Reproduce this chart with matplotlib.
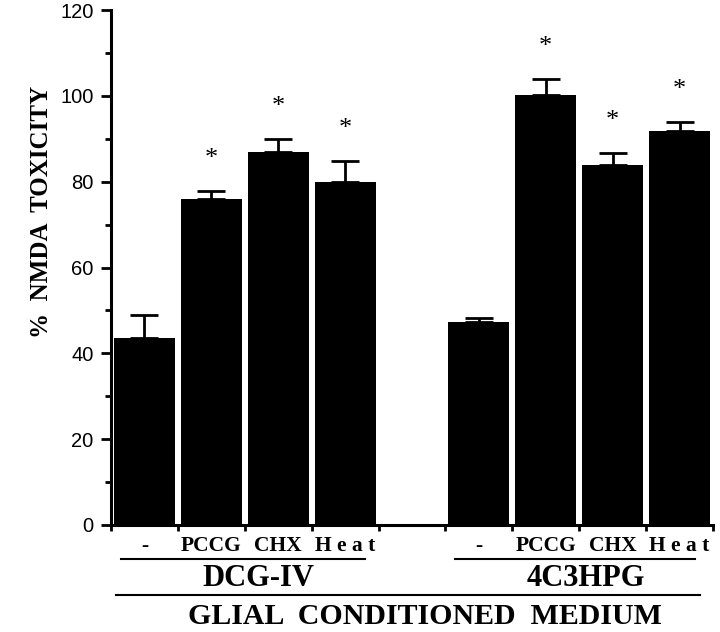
import matplotlib
matplotlib.use("Agg")
import matplotlib.pyplot as plt
import numpy as np

conditions = ["-", "PCCG", "CHX", "H e a t"]
dcg_vals = [43.6, 76.0, 87.0, 80.0]
dcg_err = [5.3, 1.9, 2.9, 4.9]
hpg_vals = [47.4, 100.1, 84.0, 91.9]
hpg_err = [0.9, 3.8, 2.7, 1.9]
dcg_sig = [False, True, True, True]
hpg_sig = [False, True, True, True]

serif = "Liberation Serif"
sans = "Liberation Sans"

fig = plt.figure(figsize=(7.2, 6.32), dpi=100)
ax = fig.add_axes([111/720, 1-525/632, 602/720, 515/632])

x1 = np.arange(4) + 0.5
x2 = np.arange(4) + 5.5
xs = np.concatenate([x1, x2])
vals = dcg_vals + hpg_vals
errs = dcg_err + hpg_err
sig = dcg_sig + hpg_sig

ax.bar(xs, vals, width=0.91, color="black", edgecolor="none")
ax.errorbar(xs, vals, yerr=[np.zeros(len(errs)), errs], fmt="none",
            ecolor="black", elinewidth=2.0, capsize=10, capthick=2.0)

for x, v, e, s in zip(xs, vals, errs, sig):
    if s:
        ax.annotate("*", (x, v + e), xytext=(0, 23), textcoords="offset points",
                    ha="center", va="center", fontsize=19, family=serif)

ax.set_xlim(0, 9)
ax.set_ylim(0, 120)
ax.spines["top"].set_visible(False)
ax.spines["right"].set_visible(False)
ax.spines["left"].set_linewidth(2.2)
ax.spines["bottom"].set_linewidth(2.2)

ax.set_yticks(np.arange(0, 121, 20))
ax.set_yticks(np.arange(10, 120, 20), minor=True)
ax.tick_params(axis="y", which="major", length=7.5, width=2, pad=5, labelsize=14.5)
ax.tick_params(axis="y", which="minor", length=4.5, width=2)
for lab in ax.get_yticklabels():
    lab.set_family(sans)

ax.set_xticks(np.arange(10))
ax.set_xticklabels([])
ax.tick_params(axis="x", which="major", length=4.5, width=2)
ax.set_xticks(xs, conditions * 2, minor=True)
ax.tick_params(axis="x", which="minor", length=0, pad=8, labelsize=15.5)
for lab in ax.get_xticklabels(minor=True):
    lab.set_family(serif)
    lab.set_fontweight("bold")

# group brackets under the axis
tr = ax.get_xaxis_transform()
def yax(px):
    # figure pixel row -> axes y fraction
    return (525 - px) / 515

ax.plot([0.15, 3.79], [yax(558.5)] * 2, color="black", lw=1.5, transform=tr, clip_on=False)
ax.plot([5.14, 8.73], [yax(558.5)] * 2, color="black", lw=1.5, transform=tr, clip_on=False)
ax.plot([0.08, 8.81], [yax(594.5)] * 2, color="black", lw=1.5, transform=tr, clip_on=False)

ax.text(2.2, yax(579), "DCG-IV", transform=tr, ha="center", va="center",
        fontsize=22, family=serif, fontweight="bold")
ax.text(7.1, yax(579), "4C3HPG", transform=tr, ha="center", va="center",
        fontsize=22, family=serif, fontweight="bold")
ax.text(4.7, yax(617), "GLIAL  CONDITIONED  MEDIUM", transform=tr, ha="center", va="center",
        fontsize=21.5, family=serif, fontweight="bold")

fig.text(42/720, 1-212/632, "%  NMDA  TOXICITY", rotation=90, ha="center", va="center",
         fontsize=18, family=serif, fontweight="bold")

fig.savefig("out.png", dpi=100)
